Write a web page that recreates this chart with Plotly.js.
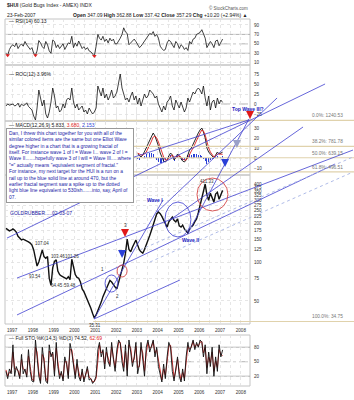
<!DOCTYPE html>
<html><head><meta charset="utf-8">
<script src="https://cdn.plot.ly/plotly-3.0.1.min.js"></script>
<style>html,body{margin:0;padding:0;background:#fff}#chart{width:354px;height:400px}</style>
</head><body><div id="chart"></div>
<script>
// ---------- DATA (monthly readings from the picture, Sep 1996 .. Feb 2007) ----------
const months = [];
for (let i = 0; i < 126; i++) { const d = new Date(Date.UTC(1996, 8 + i, 15)); months.push(d.toISOString().slice(0, 10)); }

const price = [182,178,174,176,
  180,176,170,158,152,148,150,148,145,143,140,135,
  124,105,93,100,112,124,110,107,110,75,66,90,
  101,104,85,80,78,77,75,74,77,73,105,90,
  80,76,75,70,62,59,55,50,48,44,40,37,
  39,42,46,49,54,58,62,65,72,70,66,64,
  62,70,80,90,98,117,150,125,120,130,140,148,
  135,124,120,117,125,135,150,160,176,195,211,235,
  243,236,225,211,195,186,204,215,222,210,204,215,
  190,186,193,180,175,167,180,185,193,205,215,240,
  275,305,350,400,330,300,340,310,290,335,345,305,
  335,357.29];

const rsi = [30,26,38,45,
  48,44,52,40,46,50,45,55,48,43,38,42,
  30,26,35,57,52,44,40,55,48,35,30,58,
  55,42,48,40,45,50,38,44,52,50,66,42,
  52,45,56,48,40,44,38,42,35,33,28,24,
  45,70,62,58,66,55,60,52,62,56,60,50,
  50,55,62,70,84,75,72,48,52,58,60,55,
  48,42,45,50,55,60,66,72,70,76,66,70,
  62,45,40,36,38,52,58,55,48,42,55,50,
  40,48,45,38,42,36,55,50,60,62,70,72,
  74,80,70,62,42,48,55,50,42,56,58,46,
  52,60.13];
const rsiSignalMonths = [1, 17, 51];

const roc = [-5,0,-3,-2,
  0,-5,-3,2,-8,0,-4,-2,3,-6,-10,-15,
  -30,-40,-10,35,15,-5,10,-25,-35,-20,5,40,
  20,-10,-5,-20,-15,0,-10,10,15,10,40,5,
  -10,0,-15,-10,-5,-20,-15,-25,-10,-18,-25,-20,
  -10,45,30,20,40,15,25,10,20,35,15,20,
  30,50,75,40,25,10,15,5,20,30,10,20,
  0,15,-5,10,25,15,20,35,30,25,15,20,
  0,-10,-20,-5,-15,5,10,20,-5,-15,10,0,
  -10,5,-5,-20,-10,15,5,20,30,25,35,40,
  35,25,45,15,-5,20,-15,5,10,-10,15,0,
  10,3.96];

// MACD readable only from 2003 on (the rest sits under the note box)
const macdStart = 76;
const macd = [4,2,1,3,6,10,14,18,22,25,22,18,
  12,5,0,-3,-4,-2,2,5,3,-2,0,4,
  2,-1,-3,-4,-2,3,8,10,14,18,22,25,
  28,30,26,20,10,6,4,2,0,3,6,4,
  5,5.833];
const macdSignal = [5,4,3,3,4,6,9,13,17,21,22,20,
  16,10,5,1,-2,-2,0,2,3,1,0,2,
  2,1,-1,-2,-2,0,4,7,10,14,18,22,
  25,28,27,23,16,10,6,3,1,2,4,4,
  4,3.68];
const macdHist = [-1,-2,-2,0,2,4,5,5,5,4,0,-2,
  -4,-5,-5,-4,-2,0,2,3,0,-3,0,2,
  0,-2,-2,-2,0,3,4,3,4,4,4,3,
  3,2,-1,-3,-6,-4,-2,-1,-1,1,2,0,
  1,2.153];

const stoK = [30,15,35,25,
  85,20,40,30,15,65,25,35,18,75,30,10,
  8,95,60,20,5,80,50,10,5,85,60,70,
  20,90,40,15,30,10,60,45,15,88,70,40,
  15,55,20,10,35,8,25,40,12,15,5,10,
  20,75,90,60,75,35,80,50,40,90,55,30,
  75,95,88,50,30,85,20,95,70,40,60,90,
  25,45,90,60,20,80,95,70,85,95,60,80,
  40,20,8,45,15,60,90,80,30,10,40,60,
  20,8,35,10,60,90,70,85,95,75,90,80,
  95,90,60,85,25,70,40,80,20,60,30,85,
  60,74.52];
const stoD = [33,20,28,28,
  70,35,35,32,20,55,35,32,22,62,40,15,
  10,80,70,30,10,65,58,18,8,72,65,66,
  30,78,50,22,26,15,50,50,22,75,75,48,
  22,45,28,14,28,14,22,35,18,15,8,9,
  16,62,85,68,72,45,70,58,44,80,62,38,
  65,90,90,60,38,72,32,85,78,48,55,82,
  38,40,80,68,30,68,90,78,80,92,68,75,
  50,28,12,35,22,50,82,84,40,16,32,55,
  30,12,28,16,48,82,76,80,92,80,86,82,
  90,92,68,80,38,60,48,70,30,52,38,75,
  65,62.69];

const priceTicks = [50,75,100,125,150,175,200,225,250,275,300,325,350,375,400];
const fibLevels = [["0.0%", 1240.53], ["38.2%", 781.78], ["50.0%", 639.15], ["61.8%", 496.51], ["100.0%", 34.75]];

// drawn annotations: [decimal year, price] pairs
const trendLines = [
  [1996.756,153, 2012.05,2369,'solid'],
  [1997.237,75.2, 2013.39,732,'solid'],
  [1997.237,39.0, 2012.53,571,'solid'],
  [2003.97,243, 2009.74,1847,'solid'],
  [2005.46,167.5, 2008.39,1271,'solid'],
  [1997.38,335, 2008.39,1252,'solid'],
  [2004.59,211, 2010.99,1103,'solid'],
  [2003.15,124, 2013.39,647,'dot'],
  [2003.63,100, 2013.39,495,'dot'],
  [2000.94,36.3, 2004.26,301,'solid'],
  [2000.94,36.3, 2005.07,72.6,'solid']
];
const circles = [
  [2001.47,2002.09, 58.6,79.4,'#3b3bd0'],
  [2002.05,2002.53, 76.6,94.8,'#d03030'],
  [2004.35,2005.60, 156,290.6,'#3b3bd0'],
  [2005.89,2007.38, 247.7,445,'#d03030']
];
const priceLabels = [
  ["107.04",1998.44,140],["93.54",1998.10,77],["103.46",1999.21,111],["101.26",1999.90,111],
  ["64.45",1999.16,66],["59.48",1999.79,66],["35.31",2000.99,32.6],["411.33",2006.37,422],
  ["1",2001.37,88],["2",2002.05,54.6],["3",2002.43,192]
];
const waveLabels = [["Wave I",2003.87,301],["Wave II",2005.60,147]];
const arrows = [
  [2002.43,156,'#e01818'],[2002.29,107.4,'#2a3fd8'],[2007.24,541.6,'#2a3fd8'],[2007.81,760,'#9aa0c8'],[2008.44,1271,'#e01818']
];

// ---------- SCALES ----------
const H = 400;
const dom = (top, bot) => [1 - bot / H, 1 - top / H];
const YR0 = 1996.66, YR1 = 2008.44;
function decYear(y){ const yr=Math.floor(y); const a=Date.UTC(yr,0,1), b=Date.UTC(yr+1,0,1); return new Date(a+(y-yr)*(b-a)); }
const fmt = d => d.toISOString().slice(0,10);
const xRange = [fmt(decYear(YR0)), fmt(decYear(YR1))];
const xP = y => (decYear(y) - decYear(YR0)) / (decYear(YR1) - decYear(YR0));
const priceDom = dom(110, 324), priceRange = [1.52124, 3.17375];
const yP = p => priceDom[0] + (Math.log10(p) - priceRange[0]) / (priceRange[1] - priceRange[0]) * (priceDom[1] - priceDom[0]);

const tickv = [], tickt = [];
for (let y = 1997; y <= 2008; y++) { tickv.push(y + '-01-01'); tickt.push(String(y)); if (y < 2008) { tickv.push(y + '-07-01'); tickt.push(''); } }

const FONT = 'Liberation Sans, Arial, sans-serif';
const BLUE = '#4040d0';

// ---------- TRACES ----------
const traces = [
  {x: months, y: price, type: 'scatter', mode: 'lines', xaxis: 'x', yaxis: 'y', line: {color: '#111', width: 1.4}},
  {x: months, y: rsi, type: 'scatter', mode: 'lines', xaxis: 'x', yaxis: 'y2', line: {color: '#111', width: 0.8}},
  {x: rsiSignalMonths.map(i => months[i]), y: rsiSignalMonths.map(i => rsi[i]), type: 'scatter', mode: 'markers', xaxis: 'x', yaxis: 'y2',
   marker: {symbol: 'triangle-down', size: 4, color: '#e02020'}},
  {x: months, y: roc, type: 'scatter', mode: 'lines', xaxis: 'x', yaxis: 'y3', line: {color: '#111', width: 0.8}},
  {x: months.slice(macdStart), y: macdHist, type: 'bar', xaxis: 'x', yaxis: 'y4', marker: {color: '#2a3fd8'}, width: 16*24*3600*1000},
  {x: months.slice(macdStart), y: macd, type: 'scatter', mode: 'lines', xaxis: 'x', yaxis: 'y4', line: {color: '#111', width: 0.9}},
  {x: months.slice(macdStart), y: macdSignal, type: 'scatter', mode: 'lines', xaxis: 'x', yaxis: 'y4', line: {color: '#e02020', width: 0.9}},
  {x: months, y: stoD, type: 'scatter', mode: 'lines', xaxis: 'x2', yaxis: 'y5', line: {color: '#d42020', width: 0.9}},
  {x: months, y: stoK, type: 'scatter', mode: 'lines', xaxis: 'x2', yaxis: 'y5', line: {color: '#111', width: 0.9}}
];

// ---------- SHAPES ----------
const shapes = [];
const frame = (t, b) => shapes.push({type: 'rect', xref: 'paper', yref: 'paper', x0: 0, x1: 1, y0: 1 - b / H, y1: 1 - t / H, line: {color: '#c4c4c4', width: 1}, layer: 'below'});
frame(19, 65); frame(65, 121); frame(121, 175); frame(175, 324); frame(335, 386);
const hline = (yref, v, dash) => shapes.push({type: 'line', xref: 'paper', x0: 0, x1: 1, yref: yref, y0: v, y1: v, line: {color: '#a0a0a0', width: 0.8, dash: dash}, layer: 'below'});
hline('y2', 30, 'solid'); hline('y2', 70, 'solid'); hline('y2', 50, 'dashdot');
hline('y3', 0, 'dashdot');
hline('y5', 20, 'solid'); hline('y5', 80, 'solid'); hline('y5', 50, 'dashdot');
fibLevels.forEach(f => shapes.push({type: 'line', xref: 'paper', yref: 'paper', x0: xP(2000.9), x1: 1.4245, y0: yP(f[1]), y1: yP(f[1]), line: {color: '#e0d2ac', width: 1.1}}));
trendLines.forEach(t => shapes.push({type: 'line', xref: 'paper', yref: 'paper', x0: xP(t[0]), y0: yP(t[1]), x1: xP(t[2]), y1: yP(t[3]),
  line: t[4] === 'dot' ? {color: '#b0bce8', width: 1, dash: 'dot'} : {color: BLUE, width: 0.8}}));
circles.forEach(c => shapes.push({type: 'circle', xref: 'paper', yref: 'paper', x0: xP(c[0]), x1: xP(c[1]), y0: yP(c[2]), y1: yP(c[3]), line: {color: c[4], width: 0.8}}));

// ---------- ANNOTATIONS ----------
const ann = [];
const txt = (text, x, y, o) => ann.push(Object.assign({text: text, xref: 'paper', yref: 'paper', x: x, y: y, showarrow: false, xanchor: 'left', yanchor: 'middle', font: {family: FONT, size: 5, color: '#222'}}, o || {}));
txt('<b>$HUI</b> (Gold Bugs Index - AMEX) INDX', 0, 1 - 5 / H);
txt('23-Feb-2007', 0, 1 - 15 / H);
txt('© StockCharts.com', 1, 1 - 8 / H, {xanchor: 'right', font: {family: FONT, size: 4.5, color: '#555'}});
txt('<b>Open</b> 347.09 <b>High</b> 362.88 <b>Low</b> 337.42 <b>Close</b> 357.29 <b>Chg</b> +10.20 (+2.94%) ▲', 1, 1 - 15 / H, {xanchor: 'right'});
txt('— RSI(14) 60.13', 0.01, 1 - 21 / H);
txt('— ROC(12) 3.96%', 0.01, 1 - 74 / H);
txt('— MACD(12,26,9) 5.833, <span style="color:#e02020">3.680</span>, <span style="color:#2a3fd8">2.153</span>', 0.01, 1 - 125 / H);
txt('— Full STO %K(14,3) %D(3) 74.52, <span style="color:#e02020">62.69</span>', 0.01, 1 - 338 / H);
txt('GOLDRUBBER.....02-03-07', 0.012, 1 - 213 / H, {font: {family: FONT, size: 5, color: '#1a1aa0'}});

fibLevels.forEach(f => txt(f[0] + ': ' + f[1].toFixed(2), 1.388, yP(f[1]), {xanchor: 'right', yanchor: 'bottom', font: {family: FONT, size: 4.8, color: '#777'}}));
priceLabels.forEach(l => txt(l[0], xP(l[1]), yP(l[2]), {xanchor: 'center', font: {family: FONT, size: 4.5, color: '#333'}}));
waveLabels.forEach(l => txt('<b>' + l[0] + '</b>', xP(l[1]), yP(l[2]), {xanchor: 'center', font: {family: FONT, size: 5, color: '#2222c0'}}));
txt('<b>Top Wave III?</b>', 0.99, 1 - 109 / H, {xanchor: 'center', font: {family: FONT, size: 5, color: '#2222c0'}});
arrows.forEach(a => ann.push({text: '', xref: 'paper', yref: 'paper', x: xP(a[0]), y: yP(a[1]), showarrow: true, axref: 'pixel', ayref: 'pixel', ax: 0, ay: -7,
  arrowcolor: a[2], arrowwidth: 2, arrowhead: 2, arrowsize: 0.8, standoff: 0}));

const note = 'Dan, I threw this chart together for you with all of the<br>' +
 'similar colored items are the same but one Elliot Wave<br>' +
 'degree higher in a chart that is a growing fractal of<br>' +
 'itself. For instance wave 1 of I = Wave I... wave 2 of I =<br>' +
 'Wave II.......hopefully wave 3 of I will = Wave III.....where<br>' +
 '"=" actually means "equivalent segment of fractal."<br>' +
 'For instance, my next target for the HUI is a run on a<br>' +
 'rail up to the blue solid line at around 470, but the<br>' +
 'earlier fractal segment saw a spike up to the dotted<br>' +
 'light blue line equivalent to 530ish.......into, say, April of<br>' +
 '07.';
ann.push({text: note, xref: 'paper', yref: 'paper', x: 0.004, y: 1 - 128 / H, xanchor: 'left', yanchor: 'top', align: 'left', showarrow: false,
  bgcolor: '#ffffff', bordercolor: '#999', borderwidth: 1, borderpad: 2, font: {family: FONT, size: 4.9, color: '#1a1aa6'}});

// ---------- LAYOUT ----------
const yBase = {side: 'right', showline: false, zeroline: false, ticks: '', showgrid: true, gridcolor: '#e0e0e0', griddash: 'dot', gridwidth: 0.8,
  tickfont: {family: FONT, size: 4.6, color: '#333'}, ticklabelstandoff: 3, fixedrange: true};
const xBase = {type: 'date', range: xRange, domain: [0, 1], tickmode: 'array', tickvals: tickv, ticktext: tickt, showgrid: true, gridcolor: '#e0e0e0', griddash: 'dot', gridwidth: 0.8,
  ticks: '', showline: false, zeroline: false, tickfont: {family: FONT, size: 4.6, color: '#333'}, ticklabelstandoff: 2};
const layout = {
  width: 354, height: 400, margin: {l: 5, r: 104, t: 0, b: 0},
  paper_bgcolor: '#ffffff', plot_bgcolor: 'rgba(0,0,0,0)', showlegend: false, bargap: 0,
  font: {family: FONT, size: 5, color: '#333'},
  xaxis: Object.assign({}, xBase, {anchor: 'y'}),
  xaxis2: Object.assign({}, xBase, {anchor: 'y5', matches: 'x'}),
  yaxis: Object.assign({}, yBase, {type: 'log', domain: priceDom, range: priceRange, anchor: 'x', tickmode: 'array', tickvals: priceTicks, ticktext: priceTicks.map(String)}),
  yaxis2: Object.assign({}, yBase, {domain: dom(19, 65), range: [5.1, 102.7], anchor: 'x', tickmode: 'array', tickvals: [10, 30, 50, 70, 90]}),
  yaxis3: Object.assign({}, yBase, {domain: dom(65, 121), range: [-42.5, 97.5], anchor: 'x', tickmode: 'array', tickvals: [-25, 0, 25, 50, 75]}),
  yaxis4: Object.assign({}, yBase, {domain: dom(121, 175), range: [-17, 37], anchor: 'x', tickmode: 'array', tickvals: [-10, 0, 10, 20, 30]}),
  yaxis5: Object.assign({}, yBase, {domain: dom(335, 386), range: [-0.3, 105.3], anchor: 'x2', tickmode: 'array', tickvals: [20, 50, 80]}),
  shapes: shapes, annotations: ann
};
Plotly.newPlot('chart', traces, layout, {staticPlot: true, displayModeBar: false});
</script></body></html>
